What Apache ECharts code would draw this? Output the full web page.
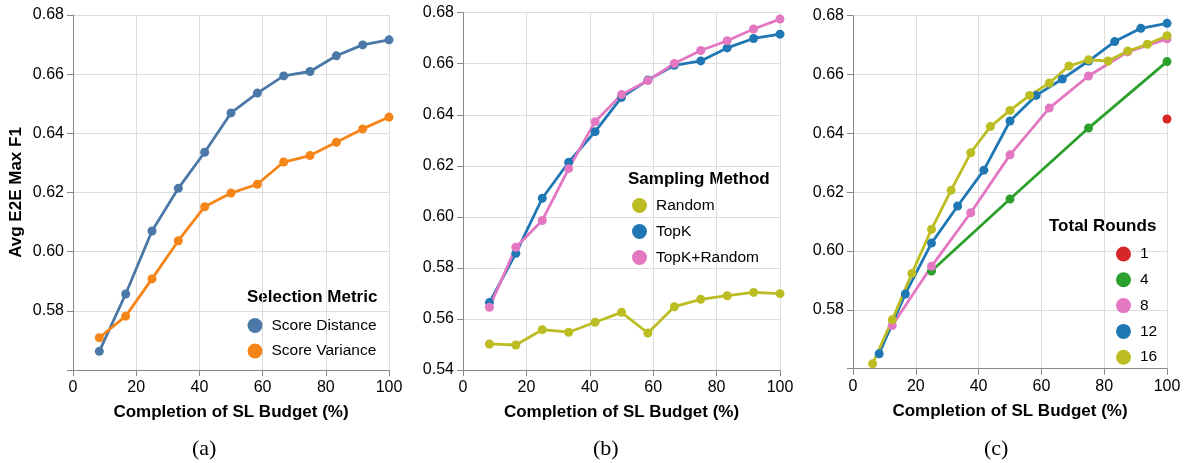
<!DOCTYPE html>
<html>
<head>
<meta charset="utf-8">
<script src="https://cdn.jsdelivr.net/npm/echarts@6/dist/echarts.min.js"></script>
<style>
  html, body { margin: 0; padding: 0; background: #fff; }
  #chart { width: 1189px; height: 463px; }
</style>
</head>
<body>
<div id="chart"></div>
<script>
// x positions (% of SL budget)
const x12 = [8.33, 16.67, 25, 33.33, 41.67, 50, 58.33, 66.67, 75, 83.33, 91.67, 100];
const x1 = [100];
const x4 = [25, 50, 75, 100];
const x8 = [12.5, 25, 37.5, 50, 62.5, 75, 87.5, 100];
const x16 = [6.25, 12.5, 18.75, 25, 31.25, 37.5, 43.75, 50, 56.25, 62.5, 68.75, 75, 81.25, 87.5, 93.75, 100];

// (a) selection metric
const scoreDistance = [0.5663, 0.5857, 0.6070, 0.6214, 0.6336, 0.6469, 0.6536, 0.6594, 0.6609, 0.6662, 0.6699, 0.6716];
const scoreVariance = [0.5709, 0.5782, 0.5908, 0.6037, 0.6152, 0.6198, 0.6228, 0.6303, 0.6325, 0.6370, 0.6415, 0.6455];

// (b) sampling method
const randomS = [0.5502, 0.5498, 0.5558, 0.5548, 0.5587, 0.5626, 0.5545, 0.5648, 0.5677, 0.5691, 0.5704, 0.5699];
const topK = [0.5664, 0.5857, 0.6073, 0.6214, 0.6334, 0.6468, 0.6536, 0.6594, 0.6611, 0.6662, 0.6699, 0.6716];
const topKRandom = [0.5646, 0.5881, 0.5986, 0.6189, 0.6373, 0.6479, 0.6534, 0.6601, 0.6652, 0.6690, 0.6736, 0.6775];

// (c) total rounds
const rounds1 = [0.6449];
const rounds4 = [0.5932, 0.6177, 0.6418, 0.6644];
const rounds8 = [0.5747, 0.5948, 0.6130, 0.6327, 0.6486, 0.6595, 0.6677, 0.6721];
const rounds12 = [0.5651, 0.5854, 0.6027, 0.6153, 0.6275, 0.6442, 0.6529, 0.6585, 0.6646, 0.6712, 0.6757, 0.6774];
const rounds16 = [0.5617, 0.5766, 0.5924, 0.6074, 0.6207, 0.6334, 0.6423, 0.6478, 0.6529, 0.6571, 0.6629, 0.6650, 0.6646, 0.6680, 0.6703, 0.6732];

const FONT = '"Liberation Sans", Arial, sans-serif';
const SERIF = '"Liberation Serif", "Times New Roman", serif';

function pairs(xs, ys) {
  return xs.map((x, i) => [x, ys[i]]);
}

function lineSeries(name, xs, ys, color, idx) {
  return {
    name: name,
    type: 'line',
    xAxisIndex: idx,
    yAxisIndex: idx,
    data: pairs(xs, ys),
    symbol: 'circle',
    symbolSize: 9,
    showSymbol: true,
    lineStyle: { width: 2.8, color: color },
    itemStyle: { color: color },
    animation: false
  };
}

function xAxis(idx) {
  return {
    type: 'value',
    gridIndex: idx,
    min: 0, max: 100, interval: 20,
    name: 'Completion of SL Budget (%)',
    nameLocation: 'middle',
    nameGap: 34,
    nameTextStyle: { fontFamily: FONT, fontSize: 17, fontWeight: 'bold', color: '#000' },
    axisLine: { show: true, lineStyle: { color: '#888' } },
    axisTick: { show: true, length: 6, lineStyle: { color: '#888' } },
    axisLabel: { fontFamily: FONT, fontSize: 16, color: '#000', margin: 10 },
    splitLine: { show: true, lineStyle: { color: '#ddd' } }
  };
}

function yAxis(idx, min, name) {
  return {
    type: 'value',
    gridIndex: idx,
    min: min, max: 0.68, interval: 0.02,
    name: name,
    nameLocation: 'middle',
    nameGap: 48,
    nameTextStyle: { fontFamily: FONT, fontSize: 17, fontWeight: 'bold', color: '#000' },
    axisLine: { show: true, lineStyle: { color: '#888' } },
    axisTick: { show: true, length: 6, lineStyle: { color: '#888' } },
    axisLabel: {
      fontFamily: FONT, fontSize: 16, color: '#000', margin: 9,
      formatter: v => (min === 0.56 && Math.abs(v - 0.56) < 1e-6) ? '' : v.toFixed(2)
    },
    splitLine: { show: true, lineStyle: { color: '#ddd' } }
  };
}

function legend(names, left, top, gap) {
  return {
    data: names,
    orient: 'vertical',
    left: left, top: top,
    padding: 0,
    icon: 'circle',
    itemWidth: 23, itemHeight: 15,
    itemGap: gap,
    selectedMode: false,
    textStyle: { fontFamily: FONT, fontSize: 15.5, color: '#000', lineHeight: 15 }
  };
}

function label(text, x, y, font) {
  return {
    type: 'text', left: x, top: y,
    style: { text: text, font: font, fill: '#000' }
  };
}

const chart = echarts.init(document.getElementById('chart'), null, { renderer: 'canvas' });

chart.setOption({
  backgroundColor: '#fff',
  animation: false,
  grid: [
    { left: 73, top: 15, width: 316, height: 355 },
    { left: 463, top: 12.7, width: 317, height: 357.3 },
    { left: 853, top: 15.7, width: 314, height: 353 }
  ],
  xAxis: [xAxis(0), xAxis(1), xAxis(2)],
  yAxis: [
    yAxis(0, 0.56, 'Avg E2E Max F1'),
    yAxis(1, 0.54, ''),
    yAxis(2, 0.56, '')
  ],
  legend: [
    legend(['Score Distance', 'Score Variance'], 247.5, 317.5, 9.5),
    legend(['Random', 'TopK', 'TopK+Random'], 632, 197.5, 10),
    legend(['1', '4', '8', '12', '16'], 1116, 246, 9.8)
  ],
  graphic: [
    label('Selection Metric', 247, 289, 'bold 17px ' + FONT),
    label('Sampling Method', 628, 170.5, 'bold 17px ' + FONT),
    label('Total Rounds', 1049, 218, 'bold 17px ' + FONT),
    label('(a)', 192, 438, '22px ' + SERIF),
    label('(b)', 593, 438, '22px ' + SERIF),
    label('(c)', 984, 438, '22px ' + SERIF)
  ],
  series: [
    lineSeries('Score Distance', x12, scoreDistance, '#4c78a8', 0),
    lineSeries('Score Variance', x12, scoreVariance, '#f58518', 0),
    lineSeries('Random', x12, randomS, '#bcbd22', 1),
    lineSeries('TopK', x12, topK, '#1f77b4', 1),
    lineSeries('TopK+Random', x12, topKRandom, '#e377c2', 1),
    lineSeries('1', x1, rounds1, '#d62728', 2),
    lineSeries('4', x4, rounds4, '#2ca02c', 2),
    lineSeries('8', x8, rounds8, '#e377c2', 2),
    lineSeries('12', x12, rounds12, '#1f77b4', 2),
    lineSeries('16', x16, rounds16, '#bcbd22', 2)
  ]
});

window.addEventListener('resize', () => {
  chart.resize();
});
</script>
</body>
</html>
